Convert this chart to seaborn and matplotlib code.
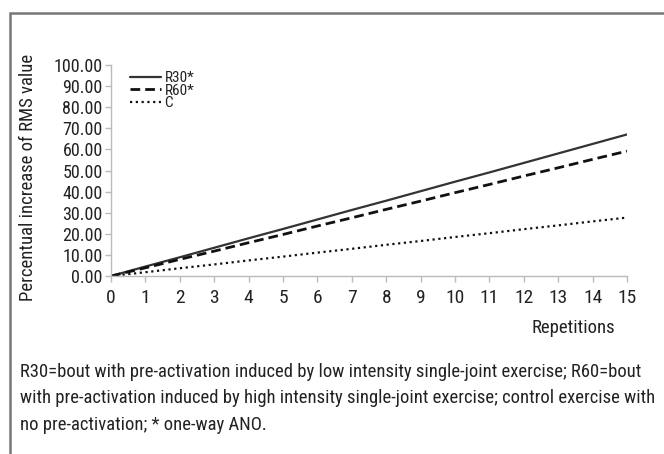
import numpy as np
import pandas as pd
import seaborn as sns
import matplotlib.pyplot as plt
from matplotlib.patches import Rectangle

### Data
# =============================================================================
repetitions = list(range(16))
r30 = [0.0, 4.5, 8.9, 13.4, 17.9, 22.3, 26.8, 31.3, 35.7, 40.2, 44.7, 49.1, 53.6, 58.1, 62.6, 67.1]
r60 = [0.0, 3.9, 7.9, 11.8, 15.8, 19.7, 23.7, 27.6, 31.6, 35.5, 39.5, 43.4, 47.4, 51.3, 55.3, 59.2]
ctrl = [0.0, 1.8, 3.7, 5.5, 7.4, 9.2, 11.1, 12.9, 14.8, 16.6, 18.5, 20.3, 22.2, 24.0, 25.9, 27.7]
series_names = ['R30*', 'R60*', 'C']
y_ticks = np.arange(0, 101, 10)
caption = ("R30=bout with pre-activation induced by low intensity single-joint exercise; R60=bout\n"
           "with pre-activation induced by high intensity single-joint exercise; control exercise with\n"
           "no pre-activation; * one-way ANO.")
# =============================================================================

df = pd.DataFrame({
    'rep': repetitions * 3,
    'value': r30 + r60 + ctrl,
    'group': [series_names[0]] * 16 + [series_names[1]] * 16 + [series_names[2]] * 16,
})

sns.set_style('white')
plt.rcParams['font.family'] = ['Roboto Condensed', 'DejaVu Sans']

fig = plt.figure(figsize=(6.64, 4.54), dpi=100)
ax = fig.add_axes([0.1672, 0.392, 0.7771, 0.4648])

sns.lineplot(data=df, x='rep', y='value', style='group', hue='group',
             palette={'R30*': '#333333', 'R60*': '#111111', 'C': '#111111'},
             dashes={'R30*': '', 'R60*': (3.5, 1.8), 'C': (1, 1.6)},
             size='group', sizes={'R30*': 1.6, 'R60*': 2.0, 'C': 1.6},
             ax=ax, legend=True)

ax.set_xlim(0, 15)
ax.set_ylim(0, 100)
ax.set_xticks(repetitions)
ax.set_yticks(y_ticks)
ax.set_yticklabels(['%.2f' % v for v in y_ticks])
ax.tick_params(axis='both', labelsize=13, colors='#bbbbbb', labelcolor='#222222',
               length=4, width=1, direction='out', left=True, bottom=True, pad=2)
ax.tick_params(axis='x', labelsize=14, pad=5)
for s in ['top', 'right']:
    ax.spines[s].set_visible(False)
for s in ['left', 'bottom']:
    ax.spines[s].set_color('#bbbbbb')
    ax.spines[s].set_linewidth(1)
ax.set_xlabel('')
ax.set_ylabel('')

leg = ax.legend(loc='upper left', bbox_to_anchor=(0.025, 1.0), frameon=False,
                fontsize=11, labelspacing=-0.1, handlelength=2.0, handletextpad=0.25,
                borderaxespad=0)
for t in leg.get_texts():
    t.set_color('#222222')

fig.text(28 / 664, 1 - 177 / 454, 'Percentual increase of RMS value', rotation=90,
         ha='center', va='center', fontsize=13.5, color='#222222')
fig.text(573 / 664, 1 - 328 / 454, 'Repetitions', ha='center', va='center',
         fontsize=13.5, color='#222222')
fig.text(20 / 664, 1 - 363 / 454, caption, ha='left', va='top', fontsize=13.4,
         color='#222222', linespacing=1.6)

# figure frame (top-left corner visible)
fig.patches.append(Rectangle((9.5 / 664, -0.1), 1.2, 1 - 13.5 / 454 + 0.1,
                             transform=fig.transFigure, fill=False,
                             edgecolor='#777777', linewidth=1.8))

fig.savefig('out.png', dpi=100)
